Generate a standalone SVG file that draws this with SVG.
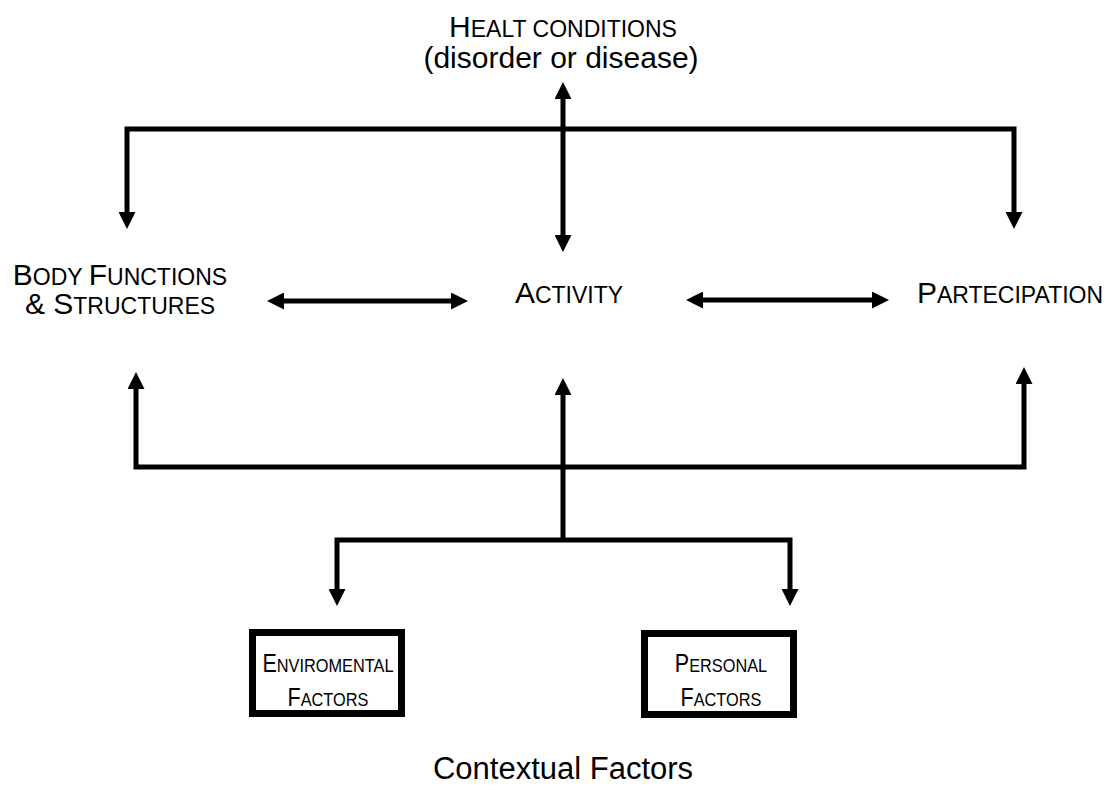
<svg xmlns="http://www.w3.org/2000/svg" width="1110" height="808" viewBox="0 0 1110 808">
<style>
text{font-family:"Liberation Sans",Arial,sans-serif;fill:#000;text-anchor:middle}
.big{font-size:30px}
.sm{font-size:23px}
.bb{font-size:25px}
.bs{font-size:19px}
.conn path{fill:none;stroke:#000;stroke-width:5;stroke-linejoin:miter;stroke-linecap:butt}
.box{fill:#fff;stroke:#000;stroke-width:7}
</style>
<defs>
<marker id="ah" viewBox="0 0 17 17" refX="8" refY="8.5" markerWidth="17" markerHeight="17" markerUnits="userSpaceOnUse" orient="auto-start-reverse"><path d="M0,0 L17,8.5 L0,17 z" fill="#000"/></marker>
</defs>
<g id="connectors" class="conn">
<path d="M127,220 V129 H1014 V220" marker-start="url(#ah)" marker-end="url(#ah)"/>
<path d="M563,91 V243" marker-start="url(#ah)" marker-end="url(#ah)"/>
<path d="M276,301 H459" marker-start="url(#ah)" marker-end="url(#ah)"/>
<path d="M695,300 H880" marker-start="url(#ah)" marker-end="url(#ah)"/>
<path d="M136,381 V467 H1024 V376" marker-start="url(#ah)" marker-end="url(#ah)"/>
<path d="M563,540 V387" marker-end="url(#ah)"/>
<path d="M337,597 V540 H790 V597" marker-start="url(#ah)" marker-end="url(#ah)"/>
</g>
<g id="health">
<text x="563" y="37"><tspan class="big">H</tspan><tspan class="sm">EALT CONDITIONS</tspan></text>
<text class="big" x="561" y="68">(disorder or disease)</text>
</g>
<g id="body">
<text x="120" y="285"><tspan class="big">B</tspan><tspan class="sm">ODY </tspan><tspan class="big">F</tspan><tspan class="sm">UNCTIONS</tspan></text>
<text x="120" y="314"><tspan class="big">&amp; S</tspan><tspan class="sm">TRUCTURES</tspan></text>
</g>
<g id="activity">
<text x="569" y="303"><tspan class="big">A</tspan><tspan class="sm">CTIVITY</tspan></text>
</g>
<g id="participation">
<text x="1010" y="303"><tspan class="big">P</tspan><tspan class="sm">ARTECIPATION</tspan></text>
</g>
<g id="environmental">
<rect class="box" x="252.5" y="632.5" width="149" height="81"/>
<g transform="translate(328,0) scale(0.86,1)">
<text x="0" y="672"><tspan class="bb">E</tspan><tspan class="bs">NVIROMENTAL</tspan></text>
<text x="0" y="706"><tspan class="bb">F</tspan><tspan class="bs">ACTORS</tspan></text>
</g>
</g>
<g id="personal">
<rect class="box" x="644.5" y="633.5" width="149" height="81"/>
<g transform="translate(721,0) scale(0.86,1)">
<text x="0" y="672"><tspan class="bb">P</tspan><tspan class="bs">ERSONAL</tspan></text>
<text x="0" y="706"><tspan class="bb">F</tspan><tspan class="bs">ACTORS</tspan></text>
</g>
</g>
<g id="contextual">
<text x="563" y="779" style="font-size:31px">Contextual Factors</text>
</g>
</svg>
